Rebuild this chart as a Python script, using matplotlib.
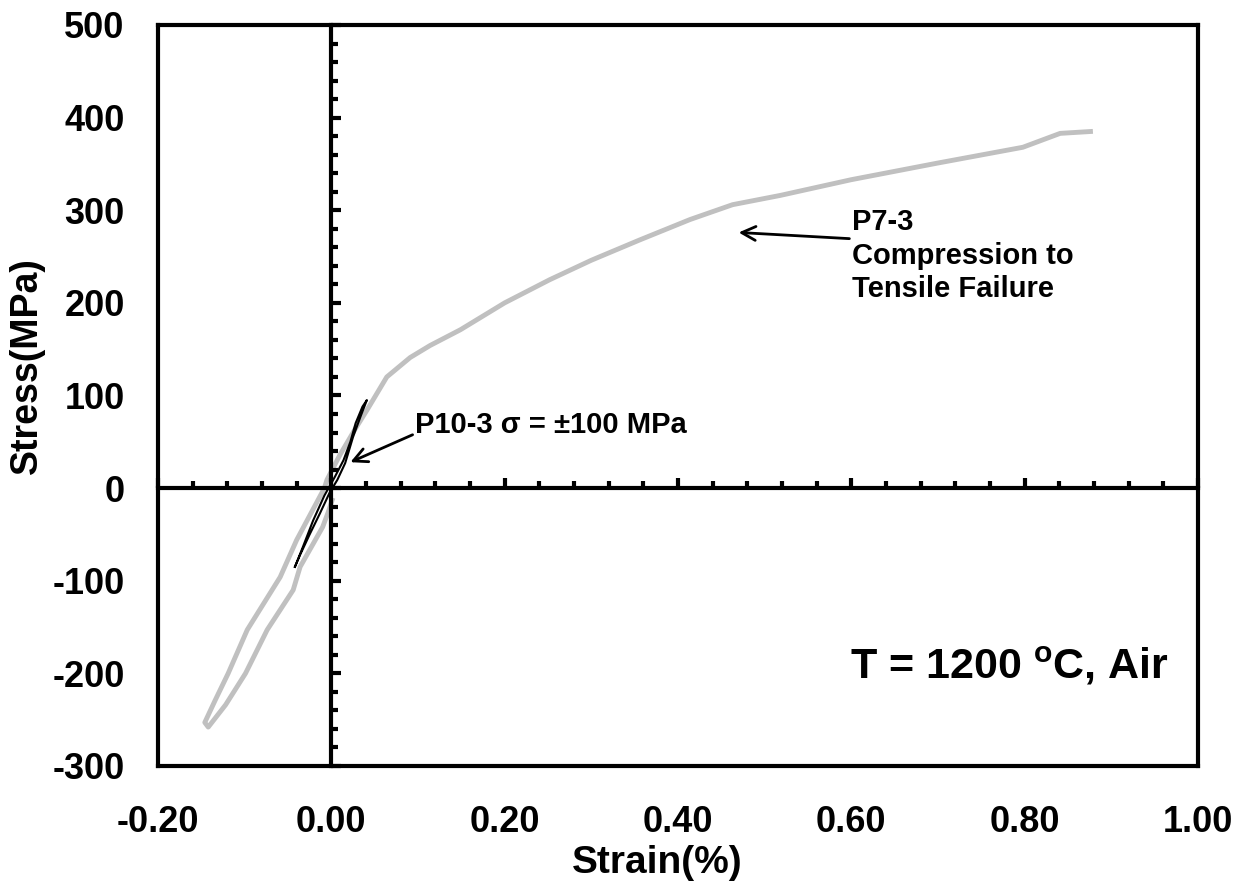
import matplotlib.pyplot as plt
from matplotlib.ticker import MultipleLocator, FormatStrFormatter

plt.rcParams['font.family'] = ['Liberation Sans', 'DejaVu Sans']
plt.rcParams['font.weight'] = 'bold'
plt.rcParams['axes.unicode_minus'] = False
plt.rcParams['mathtext.fontset'] = 'custom'
plt.rcParams['mathtext.rm'] = 'Liberation Sans:bold'
plt.rcParams['mathtext.bf'] = 'Liberation Sans:bold'

# P7-3: compression to -258 MPa, back through zero, then tension to failure
p7_strain = [0.001, -0.004, -0.010, -0.036, -0.044, -0.074, -0.099, -0.122, -0.142,
             -0.146, -0.134, -0.119, -0.097, -0.079, -0.059, -0.040, -0.008,
             -0.005, 0.010, 0.027, 0.041, 0.064, 0.091, 0.114, 0.149, 0.200,
             0.252, 0.300, 0.356, 0.414, 0.463, 0.518, 0.600, 0.700, 0.798,
             0.841, 0.876]
p7_stress = [-13, -27, -42, -85, -110, -153, -200, -234, -258,
             -253, -229, -200, -153, -126, -96, -56, 0,
             9, 36, 63, 84, 120, 141, 154, 171, 200,
             225, 246, 268, 290, 306, 316, 333, 351, 368,
             383, 385]

# P10-3: cycling at +/-100 MPa
p10_strain = [-0.042, -0.036, -0.025, -0.013, -0.002, 0.007, 0.016, 0.025, 0.034, 0.041,
              0.036, 0.028, 0.022, 0.014, 0.004, -0.008, -0.021, -0.033, -0.042]
p10_stress = [-85, -72, -50, -27, -5, 9, 27, 55, 78, 95,
              88, 70, 50, 30, 12, -8, -35, -64, -85]

fig = plt.figure(figsize=(12.45, 8.96), dpi=100)
rect = [0.1269, 0.1451, 0.8353, 0.827]
ax = fig.add_axes(rect)

ax.plot(p7_strain, p7_stress, color='#c0c0c0', lw=3.5, zorder=2)
ax.plot(p10_strain, p10_stress, color='black', lw=1.5, zorder=3)

ax.set_xlim(-0.2, 1.0)
ax.set_ylim(-300, 500)
ax.xaxis.set_major_locator(MultipleLocator(0.2))
ax.yaxis.set_major_locator(MultipleLocator(100))
ax.xaxis.set_major_formatter(FormatStrFormatter('%.2f'))
ax.tick_params(which='both', length=0, labelsize=26)
ax.tick_params(axis='x', pad=28)
ax.tick_params(axis='y', pad=24)
for s in ax.spines.values():
    s.set_linewidth(3)

ax.set_xlabel('Strain(%)', fontsize=28, fontweight='bold')
ax.set_ylabel('Stress(MPa)', fontsize=27, fontweight='bold')
ax.xaxis.set_label_coords(0.48, -0.107)
ax.yaxis.set_label_coords(-0.109, 0.54)

# zero lines with their own ticks
ax0 = fig.add_axes(rect, facecolor='none')
ax0.set_xlim(-0.2, 1.0)
ax0.set_ylim(-300, 500)
ax0.spines['top'].set_visible(False)
ax0.spines['right'].set_visible(False)
ax0.spines['left'].set_position(('data', 0))
ax0.spines['bottom'].set_position(('data', 0))
ax0.spines['left'].set_linewidth(3)
ax0.spines['bottom'].set_linewidth(3)
ax0.xaxis.set_major_locator(MultipleLocator(0.2))
ax0.yaxis.set_major_locator(MultipleLocator(100))
ax0.xaxis.set_minor_locator(MultipleLocator(0.04))
ax0.yaxis.set_minor_locator(MultipleLocator(20))
ax0.tick_params(which='both', direction='in', width=3, labelbottom=False, labelleft=False)
ax0.tick_params(which='major', length=7)
ax0.tick_params(which='minor', length=5)

ax.annotate('P10-3 σ = ±100 MPa', xy=(0.022, 28), xytext=(0.097, 68),
            fontsize=21, fontweight='bold', va='center', ha='left',
            arrowprops=dict(arrowstyle='->', color='black', lw=2,
                            mutation_scale=25, shrinkA=0, shrinkB=0,
                            relpos=(0, 0.2)))
ax.annotate('P7-3\nCompression to\nTensile Failure', xy=(0.470, 276), xytext=(0.601, 302),
            fontsize=21, fontweight='bold', va='top', ha='left', linespacing=1.25,
            arrowprops=dict(arrowstyle='->', color='black', lw=2,
                            mutation_scale=25, shrinkA=0, shrinkB=0,
                            relpos=(0.0, 0.68)))
ax.text(0.598, -193, 'T = 1200 $^\\mathbf{o}$C, Air', fontsize=31, fontweight='bold',
        va='center', ha='left')

fig.savefig('out.png', dpi=100)
